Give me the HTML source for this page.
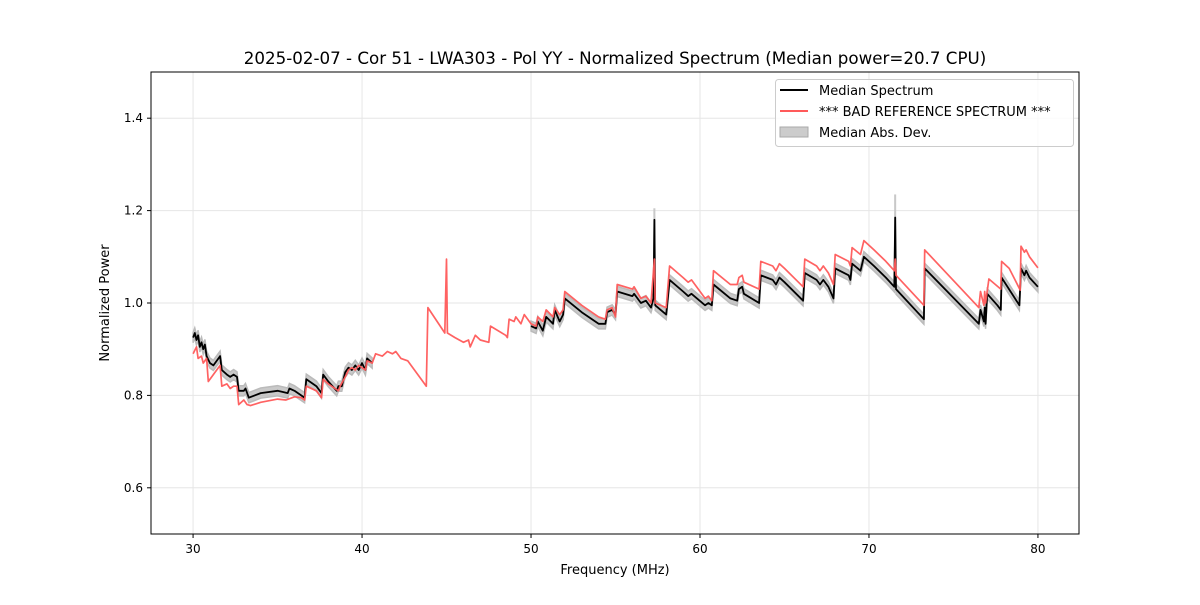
<!DOCTYPE html>
<html><head><meta charset="utf-8"><style>
body{margin:0;background:#fff}
svg{font-family:"DejaVu Sans","Liberation Sans",sans-serif}
</style></head><body>
<svg id="chart" width="1200" height="600">
<rect width="1200" height="600" fill="#fff"/>
<text x="615" y="64" font-size="16.7" text-anchor="middle">2025-02-07 - Cor 51 - LWA303 - Pol YY - Normalized Spectrum (Median power=20.7 CPU)</text>
<g id="grid"></g>
<g id="band"></g>
<g id="lines"></g>
<g id="axes"></g>
<text x="615" y="574" font-size="13" text-anchor="middle">Frequency (MHz)</text>
<text x="0" y="0" font-size="13" text-anchor="middle" transform="translate(109,303) rotate(-90)">Normalized Power</text>
<g>
<rect x="775.5" y="79.5" width="298" height="67" rx="3" fill="#fff" fill-opacity="0.8" stroke="#ccc"/>
<line x1="780" y1="90" x2="808" y2="90" stroke="#000" stroke-width="2"/>
<text x="819" y="95" font-size="13">Median Spectrum</text>
<line x1="780" y1="111" x2="808" y2="111" stroke="#ff5a5a" stroke-width="2"/>
<text x="819" y="116" font-size="13">*** BAD REFERENCE SPECTRUM ***</text>
<rect x="780" y="127" width="28" height="10" fill="#ccc" stroke="#aaa"/>
<text x="819" y="137" font-size="13">Median Abs. Dev.</text>
</g>
</svg>
<script>
const xTicks=[30,40,50,60,70,80];
const yTicks=[0.6,0.8,1.0,1.2,1.4];
const yTickLabels=["0.6","0.8","1.0","1.2","1.4"];
const redFreq=[30.0,30.2,30.3,30.5,30.6,30.8,30.9,31.1,31.4,31.6,31.7,32.0,32.2,32.4,32.6,32.7,33.0,33.2,33.4,34.0,35.0,35.5,36.0,36.4,36.6,36.7,37.3,37.6,37.7,38.0,38.6,38.7,39.0,39.2,39.4,39.6,39.8,40.0,40.2,40.3,40.6,40.8,41.2,41.5,41.8,42.0,42.3,42.7,43.8,43.9,44.9,45.0,45.05,45.5,46.0,46.3,46.4,46.7,47.0,47.5,47.6,48.5,48.6,48.7,49.0,49.1,49.4,49.6,50.0,50.3,50.4,50.7,50.9,51.3,51.4,51.7,51.9,52.0,53.0,54.0,54.4,54.5,54.8,55.0,55.1,56.0,56.1,56.5,56.8,57.1,57.3,57.35,58.0,58.2,59.0,59.3,59.5,60.3,60.5,60.7,60.8,61.8,62.2,62.3,62.5,62.6,63.5,63.6,64.3,64.5,64.7,65.0,66.1,66.2,66.9,67.1,67.3,67.6,67.9,68.0,68.8,68.9,69.0,69.5,69.7,70.3,71.0,71.5,71.55,71.6,73.25,73.3,76.5,76.6,76.8,76.85,76.9,77.1,77.8,77.85,78.3,78.95,79.0,79.2,79.3,79.5,80.0];
const redVals=[0.89,0.905,0.88,0.885,0.87,0.88,0.83,0.84,0.855,0.865,0.82,0.825,0.815,0.82,0.82,0.78,0.79,0.78,0.778,0.785,0.792,0.79,0.797,0.795,0.79,0.82,0.81,0.795,0.835,0.825,0.81,0.82,0.84,0.855,0.86,0.855,0.865,0.86,0.855,0.875,0.87,0.89,0.885,0.895,0.89,0.895,0.88,0.875,0.82,0.99,0.935,1.095,0.935,0.925,0.915,0.92,0.905,0.93,0.92,0.915,0.95,0.93,0.925,0.965,0.96,0.97,0.955,0.975,0.955,0.95,0.97,0.96,0.985,0.97,0.99,0.975,0.985,1.025,0.995,0.97,0.965,0.985,0.99,0.97,1.04,1.03,1.035,1.01,1.015,1.0,1.095,1.0,0.99,1.08,1.055,1.045,1.05,1.01,1.015,1.005,1.07,1.04,1.04,1.055,1.06,1.045,1.03,1.09,1.08,1.07,1.085,1.075,1.035,1.095,1.08,1.07,1.08,1.065,1.04,1.105,1.09,1.08,1.12,1.105,1.135,1.115,1.09,1.07,1.095,1.06,0.995,1.115,0.99,1.025,0.995,1.025,1.0,1.052,1.03,1.09,1.075,1.028,1.123,1.11,1.115,1.1,1.076];
const medFreqA=[30.0,30.1,30.2,30.3,30.4,30.5,30.6,30.7,30.8,31.0,31.2,31.6,31.7,32.0,32.2,32.4,32.6,32.7,33.0,33.1,33.3,34.0,35.0,35.6,35.7,36.0,36.4,36.6,36.7,37.3,37.6,37.7,38.0,38.5,38.6,38.8,39.0,39.2,39.4,39.6,39.8,40.0,40.2,40.3,40.6];
const medValsA=[0.925,0.935,0.92,0.93,0.905,0.915,0.9,0.91,0.885,0.87,0.865,0.885,0.855,0.845,0.84,0.845,0.84,0.81,0.81,0.815,0.795,0.805,0.81,0.805,0.815,0.81,0.8,0.795,0.835,0.82,0.805,0.845,0.83,0.81,0.82,0.82,0.85,0.86,0.855,0.865,0.855,0.87,0.855,0.88,0.87];
const medFreqB=[50.0,50.3,50.4,50.7,50.9,51.3,51.4,51.7,51.9,52.0,53.0,54.0,54.4,54.5,54.8,55.0,55.1,56.0,56.1,56.5,56.8,57.1,57.25,57.3,57.35,58.0,58.2,59.0,59.3,59.5,60.3,60.5,60.7,60.8,61.8,62.2,62.3,62.5,62.6,63.5,63.6,64.3,64.5,64.7,65.0,66.1,66.2,66.9,67.1,67.3,67.6,67.9,68.0,68.8,68.9,69.0,69.5,69.7,70.3,71.0,71.5,71.55,71.6,73.25,73.3,76.5,76.6,76.8,76.85,76.9,77.0,77.6,77.8,77.85,78.9,79.0,79.2,79.3,79.5,80.0];
const medValsB=[0.95,0.945,0.96,0.94,0.97,0.955,0.985,0.96,0.975,1.01,0.98,0.955,0.955,0.98,0.985,0.975,1.025,1.015,1.02,1.0,1.005,0.99,1.01,1.18,0.995,0.975,1.05,1.025,1.015,1.02,0.995,1.0,0.995,1.04,1.01,1.005,1.03,1.035,1.02,1.0,1.06,1.05,1.04,1.055,1.045,1.005,1.065,1.05,1.04,1.05,1.035,1.01,1.075,1.06,1.05,1.085,1.07,1.1,1.08,1.055,1.035,1.185,1.03,0.965,1.075,0.955,0.985,0.96,0.99,0.955,1.02,0.995,0.985,1.055,0.995,1.075,1.06,1.07,1.055,1.035];
const madHalf=0.011;
const madSpikeFreq=[57.3,71.55];
const madSpikeTop=[1.205,1.235];

const X0=151,X1=1079,Y0=72,Y1=534,xMin=27.51,xMax=82.43,yMin=0.5,yMax=1.5;
const sx=f=>X0+(f-xMin)/(xMax-xMin)*(X1-X0);
const sy=v=>Y1-(v-yMin)/(yMax-yMin)*(Y1-Y0);
const NS='http://www.w3.org/2000/svg';
function mk(tag,parent,attrs){const e=document.createElementNS(NS,tag);for(const k in attrs)e.setAttribute(k,attrs[k]);document.getElementById(parent).appendChild(e);return e;}
xTicks.forEach(t=>{
  const g=mk('line','grid',{x1:sx(t),x2:sx(t),y1:Y0,y2:Y1,stroke:'#e6e6e6','stroke-width':1});
  
  
  const tk=mk('line','axes',{x1:sx(t),x2:sx(t),y1:Y1,y2:Y1+4,stroke:'#000'});
  
  
  const tl=mk('text','axes',{x:sx(t),y:Y1+19,'font-size':12,'text-anchor':'middle'});
  tl.textContent=String(t);
  
  
});
yTicks.forEach((t,i)=>{
  const g=mk('line','grid',{x1:X0,x2:X1,y1:sy(t),y2:sy(t),stroke:'#e6e6e6','stroke-width':1});
  
  
  const tk=mk('line','axes',{x1:X0-4,x2:X0,y1:sy(t),y2:sy(t),stroke:'#000'});
  
  
  const tl=mk('text','axes',{x:X0-8,y:sy(t)+4,'font-size':12,'text-anchor':'end'});
  tl.textContent=yTickLabels[i];
  
  
});
const fr=mk('rect','axes',{x:X0,y:Y0,width:X1-X0,height:Y1-Y0,fill:'none',stroke:'#000'});


function bandPath(fs,vs){
  let top=fs.map((f,i)=>sx(f)+','+sy(vs[i]+madHalf));
  let bot=fs.map((f,i)=>sx(f)+','+sy(vs[i]-madHalf)).reverse();
  return 'M'+top.join('L')+'L'+bot.join('L')+'Z';
}
[[medFreqA,medValsA],[medFreqB,medValsB]].forEach(([fs,vs])=>{
  const b=mk('path','band',{d:bandPath(fs,vs),fill:'#bbb','fill-opacity':0.8,stroke:'#bbb','stroke-width':1.5});
  
  
});
madSpikeFreq.forEach((f,i)=>{
  const s=mk('line','band',{x1:sx(f),x2:sx(f),y1:sy(madSpikeTop[i]),y2:sy(1.1),stroke:'#c8c8c8','stroke-width':2});
  
  
});
const path=(fs,vs)=>'M'+fs.map((f,i)=>sx(f).toFixed(1)+','+sy(vs[i]).toFixed(1)).join('L');
[[medFreqA,medValsA],[medFreqB,medValsB]].forEach(([fs,vs])=>{
  const l=mk('path','lines',{d:path(fs,vs),fill:'none',stroke:'#000','stroke-width':1.8,'stroke-linejoin':'round'});
  
  
});
const r=mk('path','lines',{d:path(redFreq,redVals),fill:'none',stroke:'#ff5a5a','stroke-width':1.7,'stroke-opacity':0.95,'stroke-linejoin':'round'});


</script>
</body></html>
